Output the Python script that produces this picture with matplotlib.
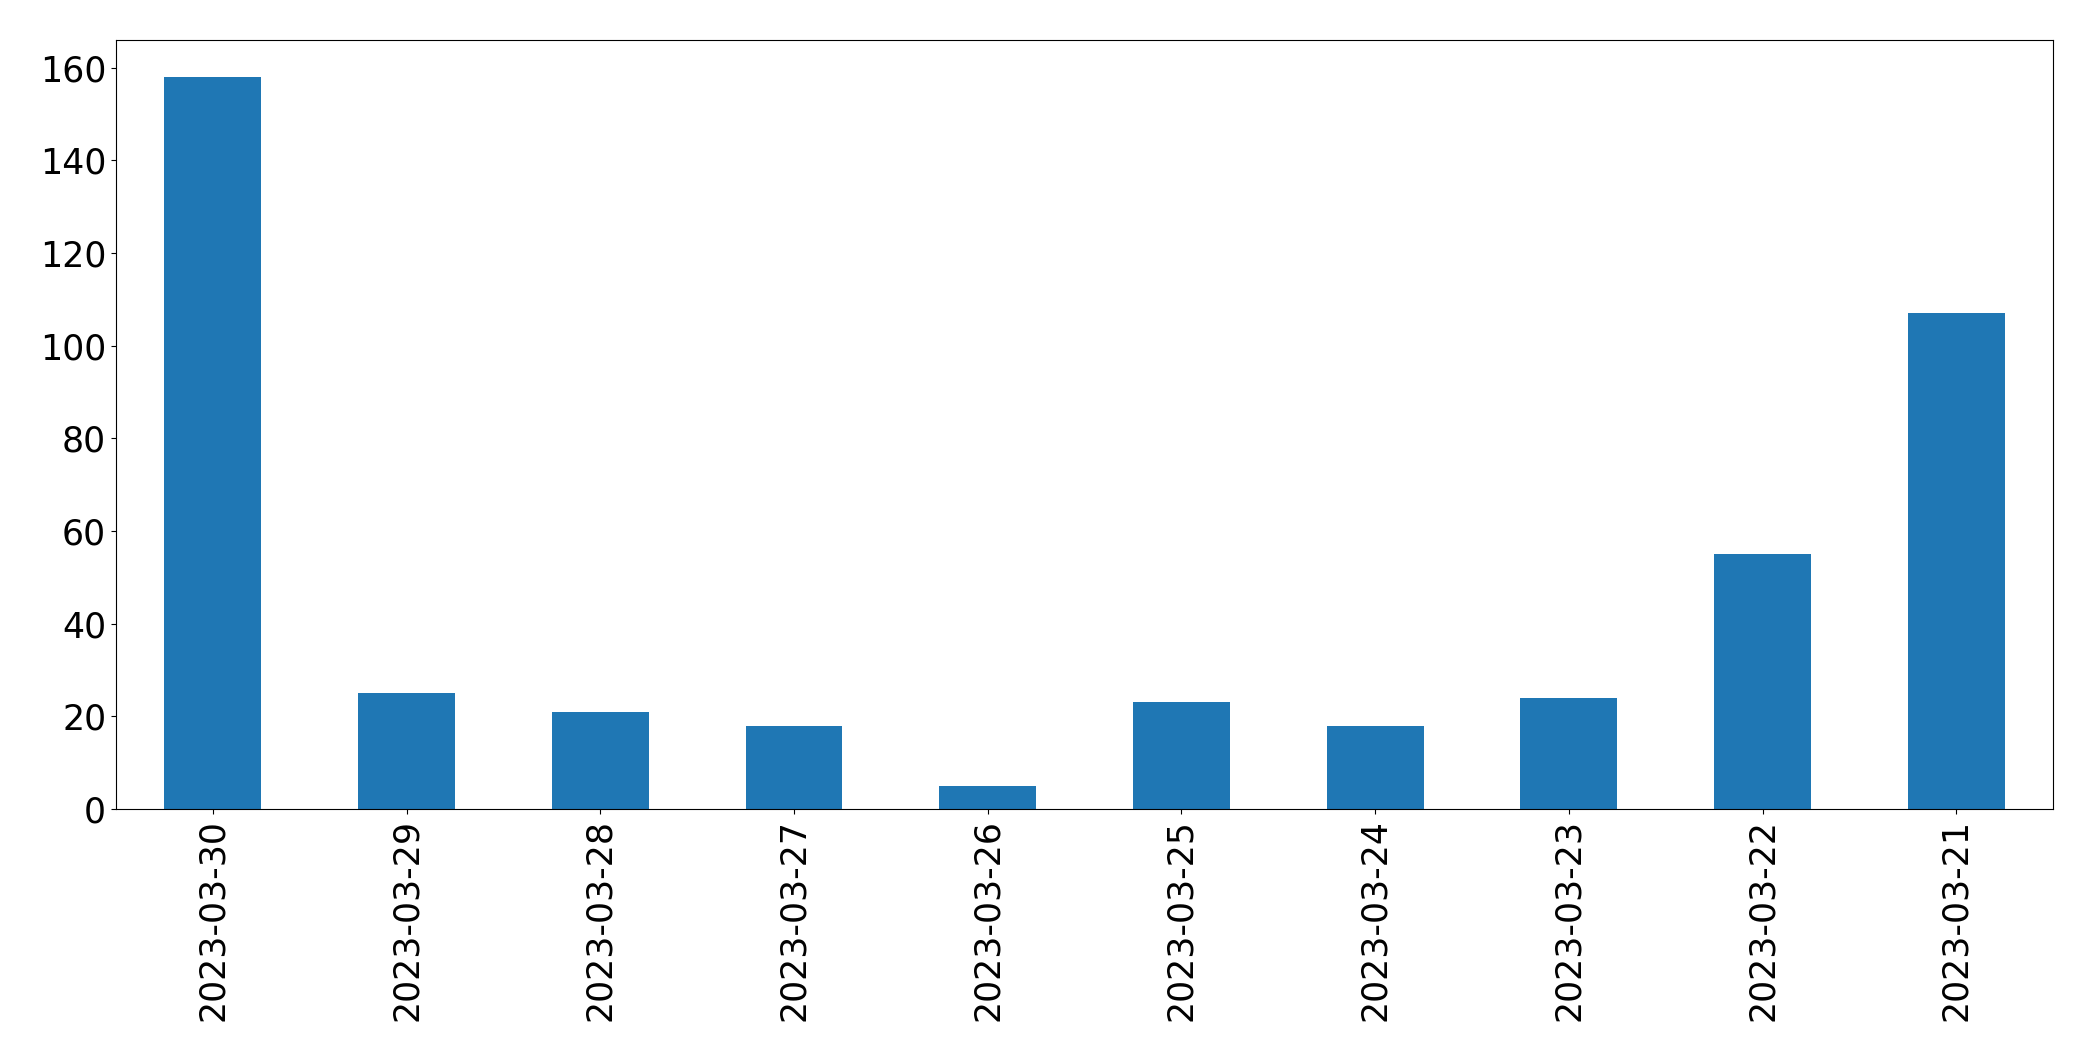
import matplotlib
matplotlib.use("Agg")
import matplotlib.pyplot as plt
import pandas as pd

# daily counts, newest first (as in the source chart)
dates = ["2023-03-30", "2023-03-29", "2023-03-28", "2023-03-27", "2023-03-26",
         "2023-03-25", "2023-03-24", "2023-03-23", "2023-03-22", "2023-03-21"]
counts = [158, 25, 21, 18, 5, 23, 18, 24, 55, 107]

series = pd.Series(counts, index=dates)

fig = plt.figure(figsize=(20.93, 10.61), dpi=100)
ax = fig.add_axes([0.0554, 0.2375, 0.9256, 0.7245])
series.plot(kind="bar", ax=ax, color="#1f77b4")

ax.tick_params(axis="both", labelsize=25)
ax.set_yticks(range(0, 161, 20))

fig.savefig("out.png", dpi=100)
